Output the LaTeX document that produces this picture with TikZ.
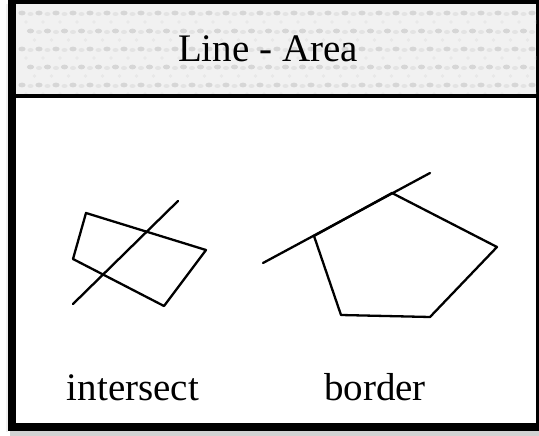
\documentclass[tikz,border=0pt]{standalone}
\usepackage{fontspec}
\setmainfont{Liberation Serif}
\begin{document}
\begin{tikzpicture}[x=1pt,y=-1pt,
  figline/.style={line width=2.3pt, line join=round, line cap=round},
  lbl/.style={font=\fontsize{39}{45}\selectfont, inner sep=0pt, anchor=base},
  dot/.style={fill=gray!32, draw=none}]
\useasboundingbox (0,0) rectangle (539,436);
% shadow
\fill[gray!35] (10,430) rectangle (539,436);
\fill[gray!12] (6,4) rectangle (8,432);
% frame
\fill[black] (8,0) rectangle (539,431);
\fill[white] (16,4) rectangle (536,423);
% header band
\fill[gray!11] (16,4) rectangle (536,94);
\begin{scope}
\clip (16,4) rectangle (536,94);
\foreach \r in {0,...,4}{
  \foreach \c in {0,...,31}{
    \pgfmathsetmacro{\xx}{22+17*\c+8.5*mod(\r,2)}
    \pgfmathsetmacro{\yy}{13+18*\r}
    \fill[dot] (\xx,\yy) ellipse (3.6 and 2.4);
    \fill[gray!22] (\xx+8.5,\yy+1) ellipse (3 and 2);
    \fill[gray!18] (\xx+4,\yy+9) circle (1.8);
  }
}
\end{scope}
\fill[black] (16,94) rectangle (536,98);
\node[lbl] (title) at (268,62) {Line - Area};
% left figure: line intersecting a quadrilateral
\coordinate (q1) at (86,213);
\coordinate (q2) at (206,250);
\coordinate (q3) at (164,306);
\coordinate (q4) at (73,259);
\coordinate (l1) at (73,304);
\coordinate (l2) at (178,201);
\draw[figline] (q1) -- (q2) -- (q3) -- (q4) -- cycle;
\draw[figline] (l1) -- (l2);
% right figure: line along border of a pentagon
\coordinate (m1) at (263,263);
\coordinate (m2) at (430,173);
\coordinate (p1) at (314,236);
\coordinate (p2) at (392,193);
\coordinate (p3) at (497,247);
\coordinate (p4) at (430,317);
\coordinate (p5) at (341,315);
\draw[figline] (p1) -- (p2) -- (p3) -- (p4) -- (p5) -- cycle;
\draw[figline] (m1) -- (m2);
% labels
\node[lbl] (lint) at (133,400) {intersect};
\node[lbl] (lbord) at (375,400) {border};
\end{tikzpicture}
\end{document}
